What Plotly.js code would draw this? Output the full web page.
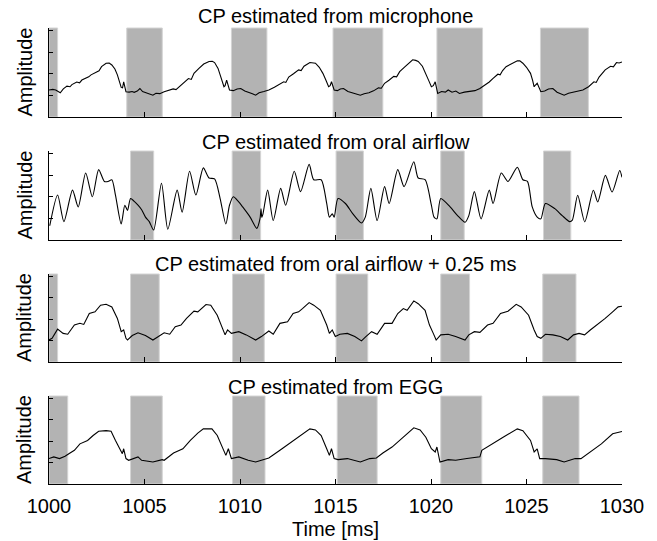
<!DOCTYPE html>
<html><head><meta charset="utf-8">
<script src="https://cdn.plot.ly/plotly-3.0.1.min.js"></script>
<style>html,body{margin:0;padding:0;background:#fff}#chart{width:657px;height:541px}</style>
</head><body><div id="chart"></div>
<script>
// ---- data ----
const panelTitles = ["CP estimated from microphone", "CP estimated from oral airflow",
  "CP estimated from oral airflow + 0.25 ms", "CP estimated from EGG"];
const yLabel = "Amplitude";
const xLabel = "Time [ms]";
const xTickVals = [1000, 1005, 1010, 1015, 1020, 1025, 1030];
const xTickText = ["1000", "1005", "1010", "1015", "1020", "1025", "1030"];
const yTickVals = [0, 1, 2, 3, 4];

// microphone
const tMic = [1000.00,1000.20,1000.35,1000.59,1000.75,1000.94,1001.10,1001.20,1001.45,1001.60,1001.72,1001.95,1002.08,1002.20,1002.50,1002.62,1002.75,1002.99,1003.15,1003.29,1003.45,1003.58,1003.70,1003.78,1003.85,1003.91,1004.03,1004.20,1004.35,1004.46,1004.62,1004.76,1004.90,1005.10,1005.25,1005.44,1005.60,1005.80,1006.03,1006.25,1006.50,1006.65,1006.81,1007.05,1007.30,1007.45,1007.59,1007.85,1008.10,1008.38,1008.55,1008.67,1008.85,1008.96,1009.08,1009.16,1009.22,1009.30,1009.45,1009.65,1009.85,1010.04,1010.25,1010.45,1010.65,1010.82,1011.00,1011.25,1011.51,1011.80,1012.05,1012.29,1012.40,1012.55,1012.80,1013.07,1013.20,1013.35,1013.66,1013.95,1014.15,1014.34,1014.50,1014.64,1014.72,1014.79,1014.93,1015.10,1015.25,1015.42,1015.65,1015.90,1016.10,1016.30,1016.50,1016.75,1016.99,1017.25,1017.40,1017.57,1017.80,1018.05,1018.20,1018.36,1018.60,1018.85,1019.04,1019.20,1019.33,1019.55,1019.73,1019.90,1020.02,1020.12,1020.22,1020.35,1020.55,1020.75,1020.90,1021.10,1021.30,1021.49,1021.75,1022.00,1022.30,1022.56,1022.80,1023.05,1023.25,1023.50,1023.62,1023.75,1023.93,1024.20,1024.52,1024.65,1024.81,1025.00,1025.21,1025.32,1025.40,1025.47,1025.56,1025.75,1025.95,1026.15,1026.38,1026.60,1026.80,1026.97,1027.20,1027.45,1027.70,1027.95,1028.25,1028.53,1028.65,1028.80,1029.12,1029.40,1029.55,1029.71,1029.85,1030.00];
const vMic = [1.25,1.28,1.25,1.12,1.30,1.43,1.40,1.50,1.62,1.58,1.71,1.80,1.86,1.95,2.10,2.14,2.33,2.49,2.50,2.41,2.22,1.95,1.60,1.37,1.35,1.63,1.17,1.15,1.18,1.14,1.20,1.32,1.18,1.12,1.05,1.01,1.10,1.08,1.17,1.22,1.30,1.27,1.40,1.55,1.78,1.74,2.02,2.25,2.45,2.57,2.58,2.52,2.25,1.95,1.60,1.40,1.45,1.71,1.25,1.22,1.30,1.32,1.20,1.15,1.08,1.01,1.12,1.18,1.25,1.38,1.50,1.63,1.60,1.85,2.00,2.18,2.15,2.35,2.52,2.49,2.30,2.02,1.70,1.40,1.45,1.63,1.25,1.22,1.30,1.32,1.18,1.12,1.05,1.01,1.08,1.12,1.21,1.35,1.33,1.56,1.70,1.88,1.86,2.10,2.30,2.50,2.65,2.62,2.57,2.35,2.02,1.65,1.40,1.45,1.63,1.09,1.18,1.15,1.25,1.15,1.20,1.09,1.15,1.18,1.22,1.32,1.45,1.62,1.79,1.98,1.95,2.15,2.33,2.45,2.60,2.60,2.49,2.30,2.02,1.70,1.40,1.48,1.56,1.17,1.20,1.30,1.32,1.15,1.08,1.01,1.10,1.15,1.20,1.25,1.40,1.63,1.60,1.85,2.18,2.35,2.32,2.52,2.50,2.55];

// oral airflow
const tAir = [1000.04,1000.45,1000.78,1001.23,1001.53,1001.92,1002.27,1002.60,1002.90,1003.09,1003.29,1003.48,1003.78,1003.97,1004.11,1004.27,1004.45,1004.66,1004.85,1005.05,1005.25,1005.48,1005.89,1006.22,1006.71,1006.97,1007.36,1007.69,1008.08,1008.38,1008.67,1008.96,1009.26,1009.45,1009.65,1009.90,1010.14,1010.53,1010.88,1011.05,1011.10,1011.14,1011.20,1011.45,1011.74,1012.13,1012.39,1012.84,1013.17,1013.62,1013.86,1014.25,1014.54,1014.68,1014.83,1014.93,1015.13,1015.52,1015.91,1016.36,1016.56,1016.85,1017.18,1017.57,1017.81,1018.26,1018.59,1019.10,1019.33,1019.69,1020.02,1020.16,1020.31,1020.51,1021.00,1021.39,1021.78,1021.98,1022.27,1022.62,1023.05,1023.25,1023.68,1024.03,1024.52,1024.81,1025.05,1025.30,1025.56,1025.75,1025.99,1026.48,1026.87,1027.26,1027.40,1027.68,1028.05,1028.50,1028.73,1029.13,1029.48,1029.88,1030.00];
const vAir = [0.66,2.08,0.85,2.31,1.53,3.10,2.00,3.26,2.71,2.71,2.79,2.08,0.74,1.61,1.37,1.92,1.80,1.61,1.40,1.06,0.85,0.46,2.63,0.50,2.31,1.29,3.18,2.08,3.34,2.87,2.83,1.92,0.74,1.61,2.00,1.80,1.53,1.06,0.54,1.00,1.45,1.05,1.20,2.31,0.90,2.39,1.61,3.18,2.24,3.50,2.79,2.79,1.69,1.06,1.21,1.06,1.92,1.69,1.21,0.79,1.06,2.39,0.90,2.47,1.69,3.26,2.47,3.62,2.87,2.79,1.61,1.06,0.98,1.92,1.53,1.13,0.82,1.13,2.24,0.98,2.31,1.69,3.10,2.71,3.37,2.79,2.71,1.53,1.06,0.98,1.69,1.45,1.13,0.85,0.92,2.07,0.84,2.30,1.76,2.99,2.22,3.22,2.90];

// oral airflow + 0.25 ms
const tAirShift = [1000.00,1000.16,1000.45,1000.74,1000.98,1001.33,1001.62,1001.82,1002.11,1002.41,1002.70,1002.99,1003.29,1003.58,1003.78,1003.91,1004.03,1004.11,1004.36,1004.66,1005.05,1005.44,1005.73,1006.03,1006.32,1006.61,1006.91,1007.20,1007.59,1007.79,1008.22,1008.47,1008.81,1009.06,1009.22,1009.35,1009.55,1009.94,1010.33,1010.82,1011.12,1011.51,1011.74,1012.09,1012.49,1012.78,1013.07,1013.27,1013.62,1013.86,1014.21,1014.54,1014.68,1014.83,1014.99,1015.23,1015.62,1016.01,1016.36,1016.59,1016.89,1017.18,1017.57,1017.96,1018.26,1018.55,1018.75,1019.10,1019.33,1019.69,1019.92,1020.12,1020.27,1020.51,1020.90,1021.29,1021.78,1021.98,1022.27,1022.56,1022.96,1023.25,1023.64,1024.03,1024.46,1024.72,1025.11,1025.40,1025.56,1025.75,1025.99,1026.38,1026.77,1027.16,1027.46,1027.75,1028.04,1028.34,1028.73,1029.12,1029.51,1029.80,1030.00];
const vAirShift = [1.03,1.11,1.54,1.34,1.30,1.73,1.81,1.76,2.27,2.35,2.66,2.70,2.58,2.04,1.42,1.50,1.11,1.03,1.24,1.37,1.24,1.03,1.19,1.37,1.30,1.65,1.73,2.04,2.38,2.35,2.69,2.66,2.19,1.65,1.27,1.50,1.34,1.42,1.27,1.03,1.19,1.45,1.30,1.81,1.88,2.27,2.35,2.50,2.78,2.66,2.42,1.73,1.34,1.50,1.19,1.30,1.34,1.19,0.99,1.19,1.42,1.30,1.81,1.81,2.27,2.50,2.42,2.86,2.73,2.42,1.73,1.34,1.03,1.27,1.30,1.19,1.03,1.27,1.42,1.39,1.73,1.81,2.27,2.38,2.70,2.58,2.19,1.50,1.19,1.11,1.30,1.27,1.19,1.03,1.27,1.34,1.27,1.50,1.76,2.04,2.35,2.58,2.61];

// EGG
const tEgg = [1000.00,1000.25,1000.55,1000.84,1001.04,1001.33,1001.62,1002.02,1002.31,1002.60,1002.99,1003.25,1003.48,1003.68,1003.84,1003.91,1004.03,1004.17,1004.66,1004.85,1005.44,1005.93,1006.03,1006.52,1007.01,1007.40,1007.79,1008.08,1008.53,1008.81,1009.06,1009.26,1009.39,1009.55,1009.94,1010.43,1010.82,1011.31,1011.51,1012.09,1012.68,1013.27,1013.66,1013.95,1014.25,1014.54,1014.68,1014.79,1014.93,1015.13,1015.62,1016.30,1016.79,1017.14,1017.48,1017.96,1018.55,1019.10,1019.43,1019.73,1020.02,1020.22,1020.31,1020.47,1020.90,1021.29,1021.88,1022.56,1022.66,1023.25,1023.84,1024.52,1024.81,1025.21,1025.40,1025.56,1025.69,1025.99,1026.58,1026.97,1027.55,1027.85,1028.34,1028.92,1029.51,1030.00];
const vEgg = [1.19,1.27,1.19,1.30,1.42,1.58,1.88,2.04,2.27,2.47,2.50,2.47,2.04,1.65,1.42,1.65,1.19,1.11,1.27,1.11,1.03,1.14,1.11,1.45,1.65,2.04,2.38,2.58,2.58,2.27,1.73,1.34,1.65,1.19,1.27,1.11,1.03,1.19,1.22,1.58,1.96,2.35,2.58,2.53,2.27,1.65,1.34,1.65,1.19,1.14,1.19,1.03,1.19,1.22,1.45,1.73,2.19,2.63,2.53,2.19,1.65,1.50,1.73,1.03,1.14,1.11,1.19,1.27,1.58,1.88,2.22,2.58,2.50,2.04,1.50,1.65,1.19,1.19,1.14,1.03,1.19,1.19,1.50,1.88,2.35,2.46];

// shaded intervals (ms)
const bandMicStart = [1000.00, 1004.07, 1009.55, 1014.87, 1020.31, 1025.73];
const bandMicEnd   = [1000.45, 1005.93, 1011.41, 1017.48, 1022.70, 1028.24];
const bandAirStart = [1004.27, 1009.59, 1015.03, 1020.51, 1025.89];
const bandAirEnd   = [1005.48, 1011.08, 1016.46, 1021.74, 1027.32];
const bandShiftStart = [1000.00, 1004.27, 1009.61, 1015.03, 1020.51, 1025.85];
const bandShiftEnd   = [1000.45, 1005.77, 1011.27, 1016.69, 1022.02, 1027.59];
const bandEggStart = [1000.00, 1004.27, 1009.61, 1015.09, 1020.51, 1025.85];
const bandEggEnd   = [1000.98, 1005.93, 1011.31, 1017.18, 1022.66, 1027.75];

// ---- figure ----
const FONT = "Liberation Sans, Arial, Helvetica, sans-serif";
const W = 657, H = 541, ML = 49, MR = 35, MT = 28, MB = 57;
const plotH = H - MT - MB;
const panelPx = [[28, 117], [151, 240], [274, 362], [396, 484]];
const titleY = [16, 141.5, 264, 387];
const series = [[tMic, vMic], [tAir, vAir], [tAirShift, vAirShift], [tEgg, vEgg]];
const bands = [[bandMicStart, bandMicEnd], [bandAirStart, bandAirEnd], [bandShiftStart, bandShiftEnd], [bandEggStart, bandEggEnd]];
const lineShape = ["linear", "spline", "linear", "linear"];
const py = px => (H - MB - px) / plotH;

const data = [];
const layout = {
  width: W, height: H, margin: {l: ML, r: MR, t: MT, b: MB},
  paper_bgcolor: "#fff", plot_bgcolor: "rgba(0,0,0,0)",
  showlegend: false, font: {family: FONT, size: 20, color: "#000"},
  shapes: [], annotations: []
};

for (let i = 0; i < 4; i++) {
  const n = i + 1;
  const xa = "xaxis" + (n === 1 ? "" : n), ya = "yaxis" + (n === 1 ? "" : n);
  const xr = "x" + (n === 1 ? "" : n), yr = "y" + (n === 1 ? "" : n);
  layout[xa] = {
    domain: [0, 1], anchor: yr, range: [1000, 1030], showgrid: false, zeroline: false,
    showline: true, linecolor: "#000", linewidth: 1, ticks: "inside", ticklen: 5, tickwidth: 1, tickcolor: "#000",
    tickmode: "array", tickvals: xTickVals, ticktext: xTickText, ticklabelstandoff: 4,
    showticklabels: n === 4, tickfont: {family: FONT, size: 20, color: "#000"}, fixedrange: true
  };
  layout[ya] = {
    domain: [py(panelPx[i][1]), py(panelPx[i][0])], anchor: xr, range: [0, 4.12],
    showgrid: false, zeroline: false, showline: true, linecolor: "#000", linewidth: 1,
    ticks: "inside", ticklen: 4, tickwidth: 1, tickcolor: "#000",
    tickmode: "array", tickvals: yTickVals, showticklabels: false, fixedrange: true
  };
  data.push({
    type: "scatter", mode: "lines", x: series[i][0], y: series[i][1], xaxis: xr, yaxis: yr,
    line: {color: "#000", width: 1.1, shape: lineShape[i], smoothing: 0.7}, hoverinfo: "skip"
  });
  const [bs, be] = bands[i];
  for (let k = 0; k < bs.length; k++) {
    layout.shapes.push({
      type: "rect", layer: "below", xref: xr, yref: yr + " domain",
      x0: bs[k], x1: be[k], y0: 0, y1: 1,
      fillcolor: "#b3b3b3", line: {color: "#d4d4d4", width: 1}
    });
  }
  layout.annotations.push({
    text: panelTitles[i], xref: "paper", yref: "paper", x: 0.5, y: py(titleY[i]),
    xanchor: "center", yanchor: "middle", showarrow: false,
    font: {family: FONT, size: 20, color: "#000"}
  });
  layout.annotations.push({
    text: yLabel, xref: "paper", yref: "paper", x: (24 - ML) / (W - ML - MR),
    y: py((panelPx[i][0] + panelPx[i][1]) / 2), textangle: -90,
    xanchor: "center", yanchor: "middle", showarrow: false,
    font: {family: FONT, size: 20, color: "#000"}
  });
}
layout.annotations.push({
  text: xLabel, xref: "paper", yref: "paper", x: 0.5, y: py(529),
  xanchor: "center", yanchor: "middle", showarrow: false, borderpad: 0,
  font: {family: FONT, size: 20, color: "#000"}
});

Plotly.newPlot("chart", data, layout, {displayModeBar: false, staticPlot: true});
</script>
</body></html>
